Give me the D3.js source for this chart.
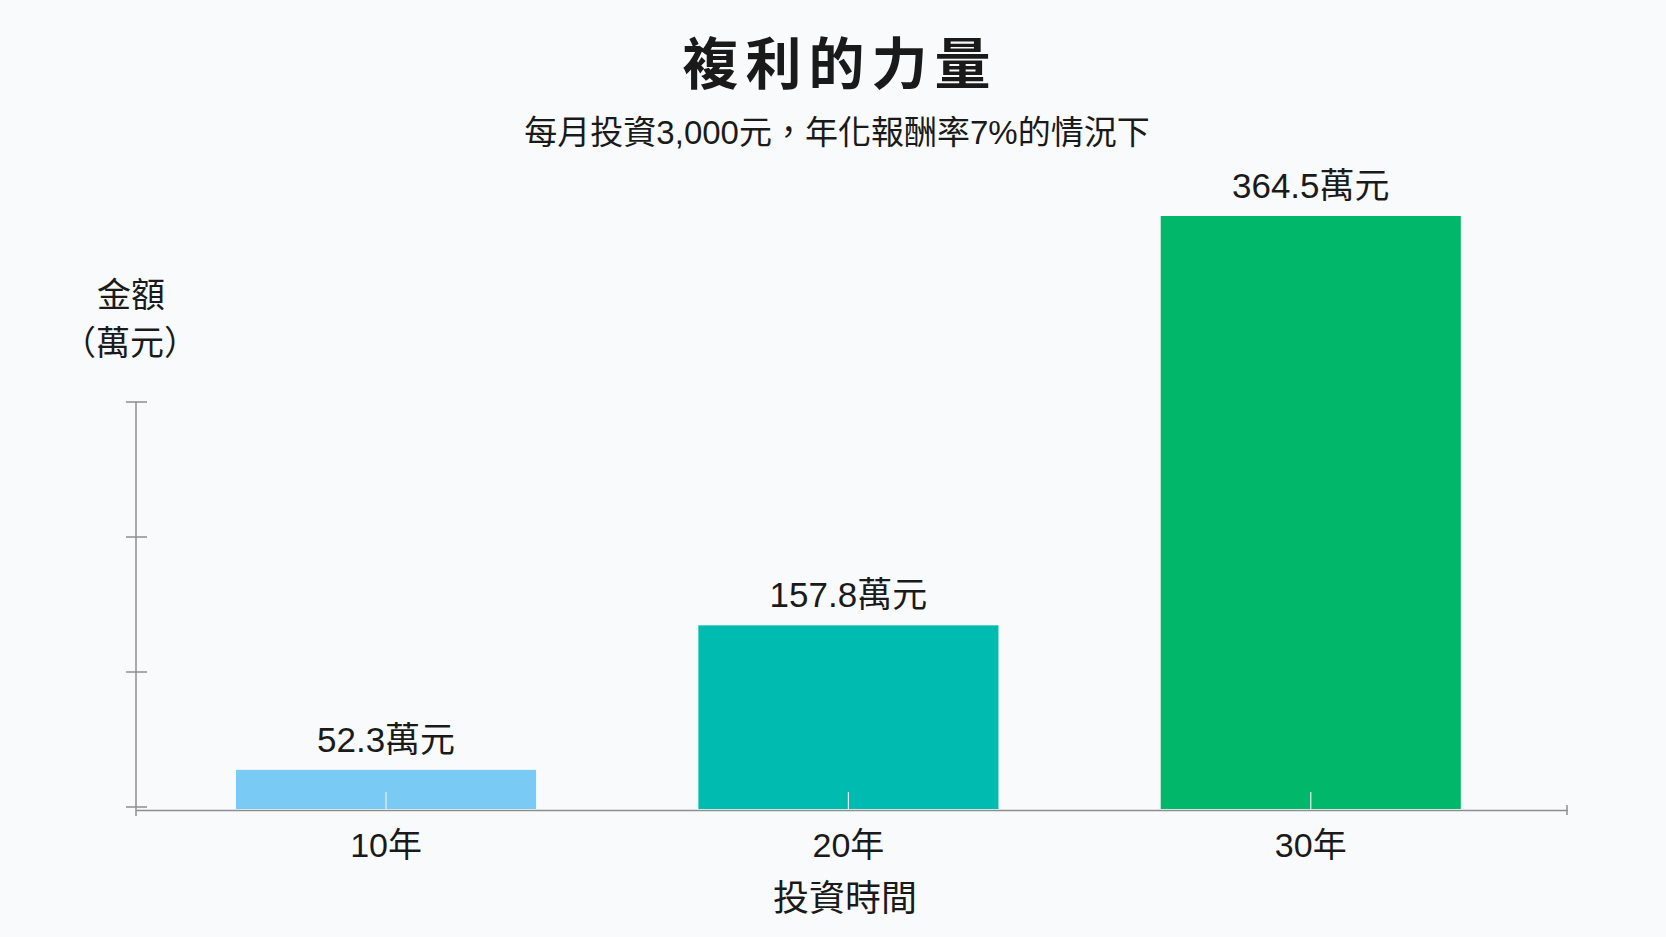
<!DOCTYPE html>
<html>
<head>
<meta charset="utf-8">
<script src="https://cdn.jsdelivr.net/npm/d3@7"></script>
<style>
  html, body { margin: 0; padding: 0; background: #f9fafb; }
  svg { display: block; }
  text { font-family: "Liberation Sans", "Noto Sans CJK TC", sans-serif; fill: #1a1a1a; }
</style>
</head>
<body>
<div id="chart"></div>
<script>
// Chart data
const categories = ['10年', '20年', '30年'];
const values = [52.3, 157.8, 364.5];
const barColors = ['#79cbf5', '#00bbb0', '#00b76a'];
const valueLabels = values.map((v) => `${v}萬元`);
const yTickCount = 3; // unlabeled tick marks on the y axis

const width = 1666;
const height = 937;
const axisColor = '#8e8e8e';

const svg = d3
  .select('#chart')
  .append('svg')
  .attr('width', width)
  .attr('height', height);

svg
  .append('rect')
  .attr('width', width)
  .attr('height', height)
  .attr('fill', '#f9fafb');

// Scales
const x = d3
  .scaleBand()
  .domain(categories)
  .range([136, 1567])
  .paddingInner(0.351)
  .paddingOuter(0.223)
  .align(0.485);

// bar heights in the picture grow faster than linear
const y = d3.scalePow().exponent(1.4).domain([0, 364.5]).range([809, 216]);

const yTicks = d3.scaleLinear().domain([0, yTickCount]).range([807, 402]);

// Title + subtitle
svg
  .append('text')
  .attr('x', 840)
  .attr('y', 84)
  .attr('text-anchor', 'middle')
  .style('font-family', '"Noto Sans CJK TC", sans-serif')
  .style('font-weight', 700)
  .style('font-size', '56px')
  .style('letter-spacing', '7px')
  .text('複利的力量');

svg
  .append('text')
  .attr('x', 837)
  .attr('y', 144)
  .attr('text-anchor', 'middle')
  .style('font-size', '33px')
  .text('每月投資3,000元，年化報酬率7%的情況下');

// Bars
svg
  .selectAll('.bar')
  .data(values)
  .enter()
  .append('rect')
  .attr('class', 'bar')
  .attr('x', (d, i) => x(categories[i]))
  .attr('y', (d) => y(d))
  .attr('width', x.bandwidth())
  .attr('height', (d) => y(0) - y(d))
  .attr('fill', (d, i) => barColors[i]);

// Value labels above bars
svg
  .selectAll('.value-label')
  .data(values)
  .enter()
  .append('text')
  .attr('class', 'value-label')
  .attr('x', (d, i) => x(categories[i]) + x.bandwidth() / 2)
  .attr('y', (d) => y(d) - 18)
  .attr('text-anchor', 'middle')
  .style('font-size', '35px')
  .text((d, i) => valueLabels[i]);

// X axis (inner ticks drawn upward over the bars)
const xAxis = svg
  .append('g')
  .attr('transform', 'translate(0,810)')
  .call(d3.axisBottom(x).tickSizeInner(-18).tickSizeOuter(0).tickPadding(23));

xAxis.select('.domain').attr('stroke', axisColor).attr('stroke-width', 1.5);
xAxis.selectAll('.tick line').attr('stroke', '#e6eef0').attr('stroke-width', 1.2);
xAxis
  .selectAll('.tick text')
  .style('font-size', '34px')
  .style('font-family', '"Liberation Sans", "Noto Sans CJK TC", sans-serif')
  .attr('fill', '#1a1a1a');

// small end mark on the right of the x axis
xAxis
  .append('line')
  .attr('x1', x.range()[1])
  .attr('x2', x.range()[1])
  .attr('y1', -5)
  .attr('y2', 5)
  .attr('stroke', axisColor)
  .attr('stroke-width', 1.5);

// Y axis: line with unlabeled tick marks crossing it
const yAxis = svg.append('g').attr('transform', 'translate(136,0)');

yAxis
  .append('line')
  .attr('y1', yTicks.range()[1])
  .attr('y2', 816)
  .attr('stroke', axisColor)
  .attr('stroke-width', 1.5);

yAxis
  .selectAll('.ytick')
  .data(yTicks.ticks(yTickCount))
  .enter()
  .append('line')
  .attr('class', 'ytick')
  .attr('x1', -10)
  .attr('x2', 11)
  .attr('y1', (d) => yTicks(d))
  .attr('y2', (d) => yTicks(d))
  .attr('stroke', axisColor)
  .attr('stroke-width', 1.5);

// Axis titles
const yTitle = svg
  .append('text')
  .attr('text-anchor', 'middle')
  .style('font-size', '34px');

yTitle.append('tspan').attr('x', 131).attr('y', 307).text('金額');
yTitle.append('tspan').attr('x', 130).attr('y', 355).text('（萬元）');

svg
  .append('text')
  .attr('x', 845)
  .attr('y', 911)
  .attr('text-anchor', 'middle')
  .style('font-size', '36px')
  .text('投資時間');
</script>
</body>
</html>
